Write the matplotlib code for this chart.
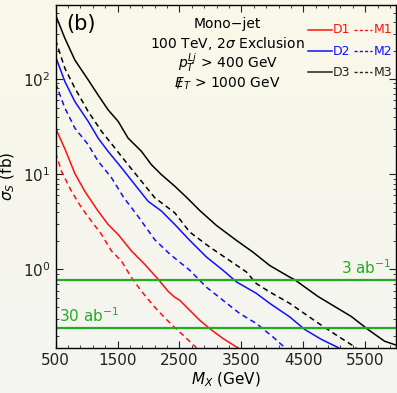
import numpy as np
import matplotlib
matplotlib.use("Agg")
import matplotlib.pyplot as plt
from matplotlib.colors import LinearSegmentedColormap
from matplotlib.ticker import FixedLocator, LogLocator, NullFormatter

# 2σ exclusion curves, mono-jet, 100 TeV  (M_X in GeV, sigma_S in fb)
mx_d3 = [500, 650, 811, 1026, 1187, 1348, 1510, 1671, 1887, 2048, 2210, 2424, 2613, 2828,
         3097, 3420, 3687, 3957, 4280, 4360, 4736, 5275, 5543, 5812, 6000]
xs_d3 = [472, 269, 159, 98.4, 68, 47.6, 36, 24, 17.4, 12.6, 9.9, 7.5, 5.74, 4.16,
         2.90, 2.02, 1.52, 1.10, 0.83, 0.78, 0.52, 0.32, 0.234, 0.176, 0.16]

mx_m3 = [500, 650, 811, 1026, 1242, 1457, 1671, 1887, 2102, 2424, 2666, 2988, 3311,
         3581, 3742, 3957, 4280, 4736, 5058, 5355]
xs_m3 = [258, 130, 80.5, 45.7, 28.3, 18.9, 12.6, 8.45, 5.66, 3.94, 2.47, 1.72, 1.24,
         0.94, 0.71, 0.58, 0.44, 0.274, 0.199, 0.15]

mx_d2 = [500, 650, 811, 1026, 1187, 1348, 1565, 1779, 1994, 2210, 2424, 2666, 2936,
         3203, 3420, 3742, 3957, 4280, 4522, 4791, 5070]
xs_d2 = [173, 94.4, 58.2, 36, 24, 17.4, 11.7, 7.8, 5.2, 4.1, 2.97, 2.02, 1.35,
         0.98, 0.74, 0.56, 0.44, 0.317, 0.234, 0.184, 0.15]

mx_m2 = [500, 650, 811, 1026, 1187, 1403, 1600, 1833, 2102, 2344, 2666, 2936, 3203,
         3473, 3742, 4010, 4171, 4230]
xs_m2 = [90.8, 49.7, 30.6, 20.5, 13.7, 9.2, 5.7, 3.6, 2.05, 1.45, 0.98, 0.65, 0.474,
         0.344, 0.27, 0.195, 0.157, 0.15]

mx_d1 = [500, 650, 811, 973, 1187, 1348, 1510, 1726, 1940, 2155, 2316, 2424, 2505,
         2666, 2828, 2988, 3203, 3420, 3450]
xs_d1 = [30.6, 18.5, 10.2, 6.6, 4.1, 2.97, 2.33, 1.56, 1.13, 0.79, 0.59, 0.51, 0.474,
         0.372, 0.292, 0.239, 0.188, 0.153, 0.15]

mx_m1 = [500, 597, 758, 919, 1080, 1242, 1403, 1565, 1726, 1887, 2102, 2263, 2424,
         2559, 2774]
xs_m1 = [16.8, 10.7, 6.6, 4.45, 3.21, 2.33, 1.56, 1.22, 0.82, 0.59, 0.40, 0.31, 0.245,
         0.204, 0.15]

lumi_labels = ["3 ab$^{-1}$", "30 ab$^{-1}$"]
lumi_xs = [0.77, 0.243]

xticks = [500, 1500, 2500, 3500, 4500, 5500]

green = "#1fae1f"
red = "#ff1010"
blue = "#1010ff"

fig = plt.figure(figsize=(3.97, 3.93), dpi=100)

# soft cream-to-grey background behind everything
bg_ax = fig.add_axes([0, 0, 1, 1], zorder=-10)
grad = np.linspace(0, 1, 256).reshape(-1, 1)
bg_cmap = LinearSegmentedColormap.from_list("bg", ["#f9f8e8", "#f4f4f2"])
bg_ax.imshow(grad, aspect="auto", cmap=bg_cmap, extent=[0, 1, 0, 1])
bg_ax.axis("off")

ax = fig.add_axes([0.140, 0.115, 0.858, 0.872])
ax.set_facecolor("none")

lw = 1.1
dash = (0, (3.5, 2.5))
ax.plot(mx_d3, xs_d3, color="black", lw=lw)
ax.plot(mx_m3, xs_m3, color="black", lw=lw, linestyle=dash)
ax.plot(mx_d2, xs_d2, color=blue, lw=lw)
ax.plot(mx_m2, xs_m2, color=blue, lw=lw, linestyle=dash)
ax.plot(mx_d1, xs_d1, color=red, lw=lw)
ax.plot(mx_m1, xs_m1, color=red, lw=lw, linestyle=dash)

for y in lumi_xs:
    ax.axhline(y, color=green, lw=1.6)
ax.text(5930, lumi_xs[0] * 1.07, lumi_labels[0], color=green, fontsize=11, ha="right", va="bottom")
ax.text(560, lumi_xs[1] * 1.07, lumi_labels[1], color=green, fontsize=11, ha="left", va="bottom")

ax.set_yscale("log")
ax.set_xlim(500, 6000)
ax.set_ylim(0.15, 600)

ax.xaxis.set_major_locator(FixedLocator(xticks))
ax.xaxis.set_minor_locator(FixedLocator(np.arange(500, 6001, 200)))
ax.yaxis.set_major_locator(LogLocator(base=10, numticks=10))
ax.yaxis.set_minor_locator(LogLocator(base=10, subs=np.arange(2, 10), numticks=20))
ax.yaxis.set_minor_formatter(NullFormatter())
ax.tick_params(which="both", direction="in", top=True, right=True, labelsize=11, colors="#222222")
ax.tick_params(which="major", length=5, width=0.8)
ax.tick_params(which="minor", length=2.5, width=0.6)
for s in ax.spines.values():
    s.set_linewidth(1.0)

ax.set_xlabel(r"$M_X$ (GeV)", fontsize=11, labelpad=2)
ax.set_ylabel(r"$\sigma_S$ (fb)", fontsize=11, labelpad=4)

ax.text(0.03, 0.975, "(b)", transform=ax.transAxes, fontsize=15, va="top", ha="left")

info = ["Mono\u2212jet", "100 TeV, 2$\\sigma$ Exclusion",
        "$p_T^{Lj}$ > 400 GeV", "${/}\\!\\!\\!E_T$ > 1000 GeV"]
for i, t in enumerate(info):
    ax.text(0.505, 0.945 - i * 0.058, t, transform=ax.transAxes, fontsize=10,
            ha="center", va="center")

# legend rows: solid name, dashed name
rows = [("D1", "M1", red), ("D2", "M2", blue), ("D3", "M3", "#222222")]
for i, (a, b, c) in enumerate(rows):
    yy = 0.928 - i * 0.062
    ax.plot([0.741, 0.812], [yy, yy], transform=ax.transAxes, color=c, lw=1.1, clip_on=False)
    ax.text(0.815, yy, a, transform=ax.transAxes, color=c, fontsize=9, va="center")
    ax.plot([0.876, 0.930], [yy, yy], transform=ax.transAxes, color=c, lw=1.0,
            linestyle=(0, (2.2, 1.6)), clip_on=False)
    ax.text(0.934, yy, b, transform=ax.transAxes, color=c, fontsize=9, va="center")

fig.savefig("out.png", dpi=100)
